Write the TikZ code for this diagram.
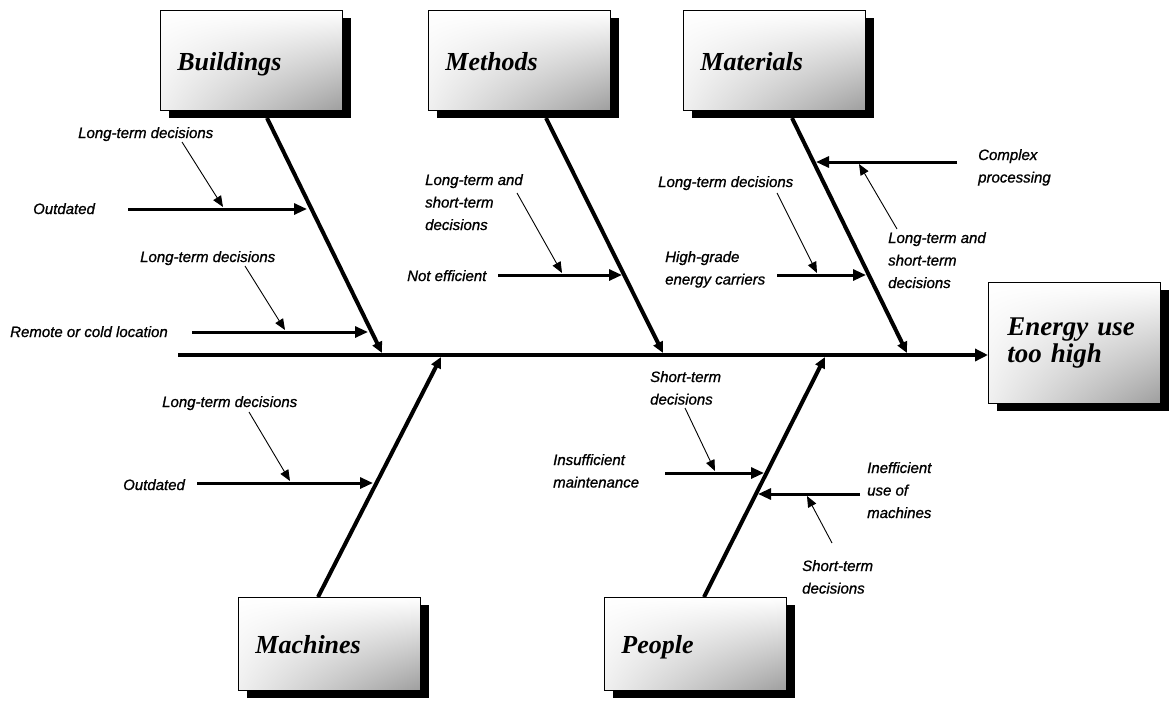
\documentclass[tikz,border=0pt]{standalone}
\usepackage{fontspec}
\setmainfont{Liberation Serif}
\newfontfamily\causefamily[ItalicFeatures={FakeBold=1.0}]{Liberation Sans}
\usetikzlibrary{arrows.meta,shadows,shadings}

% left-aligned rows whose baseline is the baseline of the first row
\newcommand\causerows[1]{\vtop{\baselineskip=22.5pt\lineskiplimit=-20pt\halign{##\hfil\cr#1\crcr}}}

\tikzset{
  boxbase/.style={draw=black, line width=0.8pt,
    upper left=white, upper right=white,
    lower left=white!94!black, lower right=white!62!black,
    drop shadow={shadow xshift=9pt, shadow yshift=-8pt, fill=black, opacity=1},
    anchor=north west, inner ysep=0pt, align=left},
  catbox/.style={boxbase, inner xsep=17pt, text width=148pt,
    text height=24pt, text depth=4pt,
    font=\fontsize{26}{30}\selectfont\bfseries\itshape},
  effectbox/.style={boxbase, inner xsep=19pt, text width=134pt, minimum height=121pt,
    font=\fontsize{27}{27}\selectfont\bfseries\itshape},
  spine/.style={line width=4pt, -{Triangle[length=13pt,width=12pt]}},
  bone/.style={line width=4pt, -{Triangle[length=11pt,width=10pt]}},
  subbone/.style={line width=3pt, -{Triangle[length=13pt,width=11pt]}},
  causearrow/.style={line width=0.9pt, -{Triangle[length=11pt,width=9pt]}},
  causetext/.style={anchor=base west, inner sep=0pt,
    font=\causefamily\itshape\fontsize{15}{22.5}\selectfont},
}

\begin{document}
\begin{tikzpicture}[x=1pt, y=-1pt]
\useasboundingbox (0,0) rectangle (1169,702);

% category boxes and the effect box
\node[catbox, minimum height=100pt] (buildings) at (160,10) {Buildings};
\node[catbox, minimum height=100pt] (methods) at (428,10) {Methods};
\node[catbox, minimum height=100pt] (materials) at (683,10) {Materials};
\node[catbox, minimum height=93pt] (machines) at (238,597) {Machines};
\node[catbox, minimum height=93pt] (people) at (604,597) {People};
\node[effectbox] (effect) at (988,282) {Energy use\\too high};

% spine
\coordinate (tail) at (178,355);
\draw[spine] (tail) -- (tail -| effect.west);

% main bones: start under each box, end on the spine
\coordinate (bS) at (267,118);  \coordinate (bE) at (382,353);
\coordinate (meS) at (546,118); \coordinate (meE) at (663,353);
\coordinate (maS) at (792,118); \coordinate (maE) at (907,353);
\coordinate (mcS) at (318,597); \coordinate (mcE) at (441,357);
\coordinate (pS) at (704,597);  \coordinate (pE) at (825,357);
\draw[bone] (bS) -- (bE);
\draw[bone] (meS) -- (meE);
\draw[bone] (maS) -- (maE);
\draw[bone] (mcS) -- (mcE);
\draw[bone] (pS) -- (pE);

% ---- Buildings ----
\node[causetext] (bOut) at (33,214) {Outdated};
\node[causetext] (bOutWhy) at (78,138) {Long-term decisions};
\coordinate (bOutS) at (128,209); \coordinate (bOutE) at (307,209);
\draw[subbone] (bOutS) -- (bOutE);
\coordinate (bOutWS) at (182,142); \coordinate (bOutWE) at (223,207);
\draw[causearrow] (bOutWS) -- (bOutWE);

\node[causetext] (bRem) at (10,337) {Remote or cold location};
\node[causetext] (bRemWhy) at (140,262) {Long-term decisions};
\coordinate (bRemS) at (192,332); \coordinate (bRemE) at (368,332);
\draw[subbone] (bRemS) -- (bRemE);
\coordinate (bRemWS) at (245,266); \coordinate (bRemWE) at (285,330);
\draw[causearrow] (bRemWS) -- (bRemWE);

% ---- Methods ----
\node[causetext] (meNot) at (407,281) {Not efficient};
\node[causetext] (meNotWhy) at (425,185) {\causerows{Long-term and\cr short-term\cr decisions}};
\coordinate (meNotS) at (498,275); \coordinate (meNotE) at (622,275);
\draw[subbone] (meNotS) -- (meNotE);
\coordinate (meNotWS) at (517,193); \coordinate (meNotWE) at (562,273);
\draw[causearrow] (meNotWS) -- (meNotWE);

% ---- Materials ----
\node[causetext] (maHigh) at (665,262) {\causerows{High-grade\cr energy carriers}};
\node[causetext] (maHighWhy) at (658,187) {Long-term decisions};
\coordinate (maHighS) at (777,275); \coordinate (maHighE) at (866,275);
\draw[subbone] (maHighS) -- (maHighE);
\coordinate (maHighWS) at (777,193); \coordinate (maHighWE) at (817,273);
\draw[causearrow] (maHighWS) -- (maHighWE);

\node[causetext] (maCx) at (978,160) {\causerows{Complex\cr processing}};
\node[causetext] (maCxWhy) at (888,243) {\causerows{Long-term and\cr short-term\cr decisions}};
\coordinate (maCxS) at (957,162); \coordinate (maCxE) at (816,162);
\draw[subbone] (maCxS) -- (maCxE);
\coordinate (maCxWS) at (897,229); \coordinate (maCxWE) at (859,164);
\draw[causearrow] (maCxWS) -- (maCxWE);

% ---- Machines ----
\node[causetext] (mcOut) at (123,490) {Outdated};
\node[causetext] (mcOutWhy) at (162,407) {Long-term decisions};
\coordinate (mcOutS) at (197,483); \coordinate (mcOutE) at (373,483);
\draw[subbone] (mcOutS) -- (mcOutE);
\coordinate (mcOutWS) at (249,412); \coordinate (mcOutWE) at (290,481);
\draw[causearrow] (mcOutWS) -- (mcOutWE);

% ---- People ----
\node[causetext] (pIns) at (553,465) {\causerows{Insufficient\cr maintenance}};
\node[causetext] (pInsWhy) at (650,382) {\causerows{Short-term\cr decisions}};
\coordinate (pInsS) at (665,473); \coordinate (pInsE) at (764,473);
\draw[subbone] (pInsS) -- (pInsE);
\coordinate (pInsWS) at (685,408); \coordinate (pInsWE) at (715,471);
\draw[causearrow] (pInsWS) -- (pInsWE);

\node[causetext] (pUse) at (867,473) {\causerows{Inefficient\cr use of\cr machines}};
\node[causetext] (pUseWhy) at (802,571) {\causerows{Short-term\cr decisions}};
\coordinate (pUseS) at (860,494); \coordinate (pUseE) at (758,494);
\draw[subbone] (pUseS) -- (pUseE);
\coordinate (pUseWS) at (832,543); \coordinate (pUseWE) at (807,496);
\draw[causearrow] (pUseWS) -- (pUseWE);
\end{tikzpicture}
\end{document}
